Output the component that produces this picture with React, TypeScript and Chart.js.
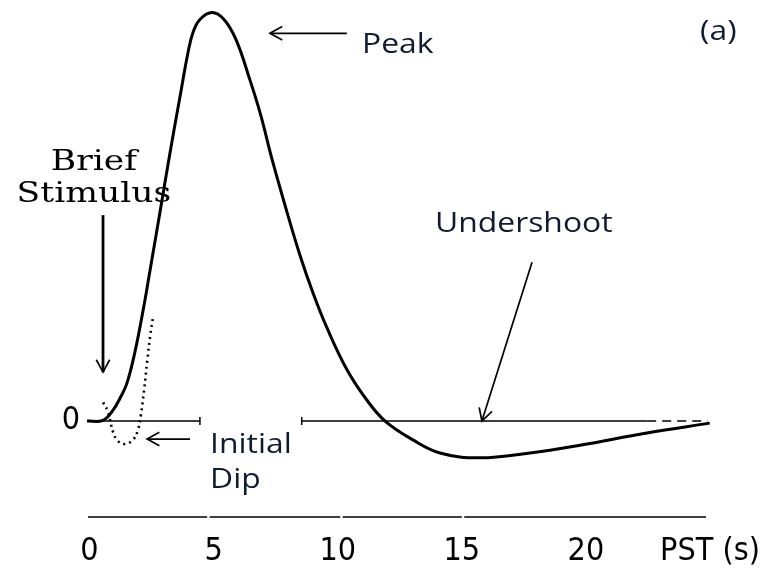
import React, { useEffect, useRef } from "react";
import { Chart, registerables } from "chart.js";

Chart.register(...registerables);

// ---- Data ----
const curveX = [-0.1, 0.545, 0.95, 1.23, 1.51, 1.83, 2.16, 2.44, 2.84, 3.24, 3.65, 3.97, 4.17, 4.45, 4.94, 5.42, 5.9, 6.48, 6.88, 7.39, 7.96, 8.48, 9.01, 9.57, 10.38, 11.18, 11.91, 13.03, 14.12, 15.73, 17.75, 19.76, 22.46, 24.99];
const curveY = [0, 0.002, 0.027, 0.056, 0.093, 0.169, 0.271, 0.369, 0.511, 0.655, 0.795, 0.902, 0.951, 0.983, 1.0, 0.983, 0.934, 0.832, 0.753, 0.633, 0.511, 0.406, 0.313, 0.228, 0.125, 0.051, 0, -0.046, -0.078, -0.09, -0.078, -0.059, -0.029, -0.005];

const dipX = [0.55, 0.75, 0.95, 1.15, 1.43, 1.75, 1.95, 2.07, 2.2, 2.33, 2.45, 2.57];
const dipY = [0.046, 0.022, -0.027, -0.049, -0.056, -0.046, -0.022, 0.015, 0.076, 0.149, 0.21, 0.259];

const tickValues = [0, 5, 10, 15, 20, 25];
const tickLabels = ["0", "5", "10", "15", "20", "PST (s)"];
const yTickValues = [0];
const yTickLabels = ["0"];

const baselineStart = [-0.1, 8.55];
const baselineEnd = [4.45, 22.47];
const baselineCapX = [4.45, 8.55];
const baselineDashX = [22.47, 24.9];

const axisStart = [-0.06, 4.84, 10.2, 15.1];
const axisEnd = [4.74, 10.1, 15.0, 24.84];

const X_MIN = -0.1;
const X_MAX = 25;
const Y_MIN = -0.2347;
const Y_MAX = 1.0171;

// annotation texts
const noteTexts = ["Peak", "(a)", "Initial", "Dip", "Undershoot"];
const noteX = [10.98, 24.6, 4.86, 4.86, 13.92];
const noteY = [0.902, 0.932, -0.078, -0.164, 0.462];

const serifTexts = ["Brief", "Stimulus"];
const serifX = [0.18, 0.18];
const serifY = [0.614, 0.535];

// arrows (tail -> tip)
const arrowFromX = [10.37, 0.545, 4.05, 17.83];
const arrowFromY = [0.949, 0.504, -0.044, 0.389];
const arrowToX = [7.27, 0.545, 2.32, 15.81];
const arrowToY = [0.949, 0.12, -0.044, 0.0];
const arrowWidth = [1.6, 2.8, 1.6, 1.7];

const TEXT_COLOR = "#0f1a33";
const TICK_FONT = "'Liberation Sans Narrow', 'DejaVu Sans Condensed', sans-serif";

const annotationPlugin = {
  id: "hrfAnnotations",
  afterDatasetsDraw(chart: any) {
    const { ctx, scales } = chart;
    const xs = scales.x;
    const ys = scales.y;
    ctx.save();
    ctx.strokeStyle = "#000";
    ctx.lineCap = "butt";
    for (let i = 0; i < arrowFromX.length; i++) {
      const x1 = xs.getPixelForValue(arrowFromX[i]);
      const y1 = ys.getPixelForValue(arrowFromY[i]);
      const x2 = xs.getPixelForValue(arrowToX[i]);
      const y2 = ys.getPixelForValue(arrowToY[i]);
      ctx.lineWidth = arrowWidth[i];
      ctx.beginPath();
      ctx.moveTo(x1, y1);
      ctx.lineTo(x2, y2);
      ctx.stroke();
      const ang = Math.atan2(y1 - y2, x1 - x2);
      const len = 14;
      const spread = 0.5;
      ctx.lineWidth = 1.7;
      ctx.beginPath();
      ctx.moveTo(x2 + len * Math.cos(ang + spread), y2 + len * Math.sin(ang + spread));
      ctx.lineTo(x2, y2);
      ctx.lineTo(x2 + len * Math.cos(ang - spread), y2 + len * Math.sin(ang - spread));
      ctx.stroke();
    }
    ctx.fillStyle = TEXT_COLOR;
    ctx.textBaseline = "alphabetic";
    ctx.textAlign = "left";
    ctx.font = "27px 'Open Sans', 'Noto Sans', sans-serif";
    for (let i = 0; i < noteTexts.length; i++) {
      ctx.save();
      ctx.translate(xs.getPixelForValue(noteX[i]), ys.getPixelForValue(noteY[i]));
      ctx.scale(1.18, 1);
      ctx.fillText(noteTexts[i], 0, 0);
      ctx.restore();
    }
    ctx.fillStyle = "#000";
    ctx.textAlign = "center";
    ctx.font = "27px 'DejaVu Serif', 'Liberation Serif', serif";
    for (let i = 0; i < serifTexts.length; i++) {
      ctx.save();
      ctx.translate(xs.getPixelForValue(serifX[i]), ys.getPixelForValue(serifY[i]));
      ctx.scale(1.28, 1);
      ctx.fillText(serifTexts[i], 0, 0);
      ctx.restore();
    }
    ctx.restore();
  },
};

function segmentsData(starts: number[], ends: number[], y: number) {
  const out: any[] = [];
  for (let i = 0; i < starts.length; i++) {
    if (i > 0) out.push({ x: (ends[i - 1] + starts[i]) / 2, y: null });
    out.push({ x: starts[i], y });
    out.push({ x: ends[i], y });
  }
  return out;
}

export default function App() {
  const canvasRef = useRef<HTMLCanvasElement | null>(null);

  useEffect(() => {
    if (!canvasRef.current) return;
    const chart = new Chart(canvasRef.current, {
      type: "line",
      data: {
        datasets: [
          {
            label: "HRF",
            data: curveX.map((x, i) => ({ x, y: curveY[i] })),
            borderColor: "#000",
            borderWidth: 3,
            pointRadius: 0,
            tension: 0.4,
            fill: false,
          },
          {
            label: "Initial dip",
            data: dipX.map((x, i) => ({ x, y: dipY[i] })),
            borderColor: "#000",
            borderWidth: 2.6,
            borderDash: [2, 4],
            pointRadius: 0,
            tension: 0.4,
            fill: false,
          },
          {
            label: "baseline",
            data: segmentsData(baselineStart, baselineEnd, 0),
            borderColor: "#000",
            borderWidth: 1.5,
            pointRadius: 0,
            spanGaps: false,
            fill: false,
          },
          {
            label: "baseline caps",
            data: baselineCapX.map((x) => ({ x, y: 0 })),
            showLine: false,
            pointStyle: "line",
            rotation: 90,
            pointRadius: 4,
            pointBorderWidth: 1.5,
            borderColor: "#000",
          },
          {
            label: "baseline dashed",
            data: baselineDashX.map((x) => ({ x, y: 0 })),
            borderColor: "#000",
            borderWidth: 1.5,
            borderDash: [9, 6],
            pointRadius: 0,
            fill: false,
          },
          {
            label: "axis",
            data: segmentsData(axisStart, axisEnd, Y_MIN),
            borderColor: "#000",
            borderWidth: 1.3,
            pointRadius: 0,
            spanGaps: false,
            clip: false,
            fill: false,
          },
        ] as any,
      },
      options: {
        animation: false,
        responsive: true,
        maintainAspectRatio: false,
        devicePixelRatio: 1,
        layout: { padding: { left: 52, right: 59, top: 5, bottom: 0 } },
        plugins: { legend: { display: false }, tooltip: { enabled: false } },
        scales: {
          x: {
            type: "linear",
            min: X_MIN,
            max: X_MAX,
            grid: { display: false, drawTicks: false },
            border: { display: false },
            afterBuildTicks: (scale: any) => {
              scale.ticks = tickValues.map((v) => ({ value: v }));
            },
            afterFit: (scale: any) => {
              scale.height = 61;
              scale.paddingLeft = 0;
              scale.paddingRight = 0;
            },
            ticks: {
              autoSkip: false,
              maxRotation: 0,
              minRotation: 0,
              padding: 15,
              color: "#000",
              font: { family: TICK_FONT, size: 32 },
              callback: (v: any) => {
                const i = tickValues.indexOf(Number(v));
                return i >= 0 ? tickLabels[i] : "";
              },
            },
          },
          y: {
            type: "linear",
            min: Y_MIN,
            max: Y_MAX,
            grid: { display: false, drawTicks: false },
            border: { display: false },
            afterBuildTicks: (scale: any) => {
              scale.ticks = yTickValues.map((v) => ({ value: v }));
            },
            afterFit: (scale: any) => {
              scale.width = 35;
              scale.paddingTop = 0;
              scale.paddingBottom = 0;
            },
            ticks: {
              padding: 7,
              color: "#000",
              font: { family: TICK_FONT, size: 32 },
              callback: (v: any) => {
                const i = yTickValues.indexOf(Number(v));
                return i >= 0 ? yTickLabels[i] : "";
              },
            },
          },
        },
      } as any,
      plugins: [annotationPlugin],
    });
    return () => chart.destroy();
  }, []);

  return (
    <div style={{ position: "absolute", left: 0, top: 0, width: 769, height: 578, background: "#fff" }}>
      <canvas ref={canvasRef} />
    </div>
  );
}
